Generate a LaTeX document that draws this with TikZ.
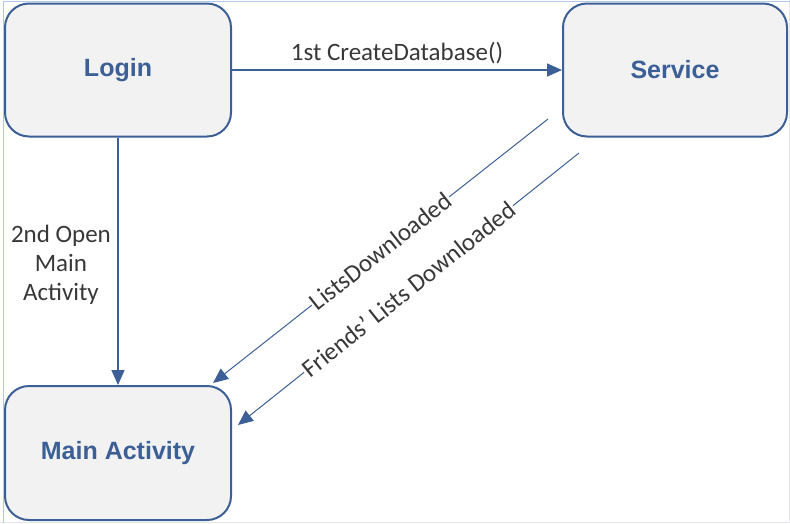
\documentclass[tikz,border=0pt]{standalone}
\usepackage{fontspec}
\setmainfont{Liberation Sans}
\newfontfamily\labelfont{Carlito}
\usetikzlibrary{arrows.meta}
\definecolor{boxblue}{HTML}{3C5F96}
\definecolor{boxfill}{HTML}{F2F2F2}
\definecolor{labelgray}{HTML}{383838}
\definecolor{frameblue}{HTML}{B4C8E8}
\definecolor{framegray}{HTML}{E6E6EC}

\begin{document}
\begin{tikzpicture}[x=1pt,y=-1pt,
  statebox/.style={draw=boxblue, line width=2pt, fill=boxfill, rounded corners=24pt,
    minimum width=226pt, minimum height=133pt, inner sep=0pt,
    font=\fontsize{25}{30}\selectfont\bfseries, text=boxblue},
  flow/.style={draw=boxblue, line width=1.6pt, -{Triangle[length=15pt,width=13pt]}},
  thinflow/.style={draw=boxblue, line width=1pt, -{Triangle[length=15pt,width=13pt]}},
  msg/.style={font=\labelfont\fontsize{25}{29}\selectfont, text=labelgray}
]
\useasboundingbox (0,0) rectangle (790,523);

% page frame
\draw[framegray, line width=1pt] (789,0) -- (789,522) -- (0,522);
\draw[frameblue, line width=1pt] (3,523) -- (3,1.5) -- (790,1.5);

% states
\node[statebox] (login) at (118,70) {Login};
\node[statebox, minimum width=224pt] (service) at (675,70) {Service};
\node[statebox, minimum height=134pt] (main) at (118,453) {Main Activity};

% message end points
\coordinate (d1s) at (548,119);
\coordinate (d1e) at (213,383);
\coordinate (d2s) at (579,153);
\coordinate (d2e) at (238,425);

% messages
\draw[flow] (login) -- node[msg, above=2pt] {1st CreateDatabase()} (service);
\draw[flow] (login) -- node[msg, align=center, left=3pt, yshift=-4pt] {2nd Open\\Main\\Activity} (main);
\draw[thinflow] (d1s) -- node[msg, sloped, fill=white, inner sep=1pt] {ListsDownloaded} (d1e);
\draw[thinflow] (d2s) -- node[msg, sloped, fill=white, inner sep=1pt] {Friends’ Lists Downloaded} (d2e);
\end{tikzpicture}
\end{document}
